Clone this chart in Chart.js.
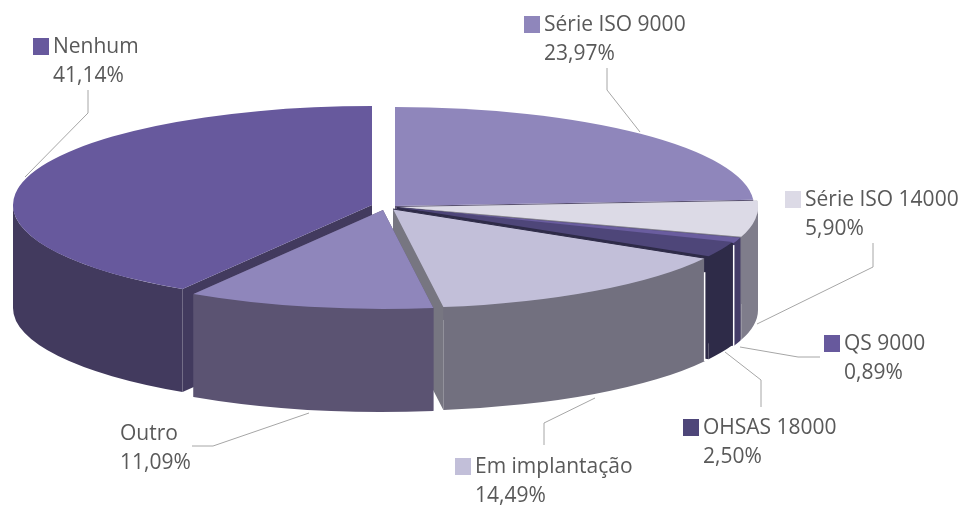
<!DOCTYPE html>
<html>
<head>
<meta charset="utf-8">
<style>html,body{margin:0;padding:0;background:#fff}canvas{display:block}</style>
<script src="https://cdn.jsdelivr.net/npm/chart.js@4"></script>
</head>
<body>
<canvas id="c" width="968" height="506"></canvas>
<script>
// Data (clockwise from 12 o'clock)
const categories = ['Série ISO 9000','Série ISO 14000','QS 9000','OHSAS 18000','Em implantação','Outro','Nenhum'];
const shares = [23.97,5.90,0.89,2.50,14.49,11.09,41.14];

// Styles
const topColors  = ['#8F86BB','#DCDAE6','#6A5D9F','#4E4679','#C2BFD9','#8F86BB','#67599D'];
const wallColors = ['#5B5372','#7F7D8B','#443C68','#2E2B48','#72707F','#5B5372','#423A5E'];
const cutColors  = ['#5B5372','#7F7D8B','#443C68','#2E2B48','#777681','#5B5372','#423A5E'];
const swatchColors = ['#8F86BB','#DCDAE6','#67599D','#4E4679','#C2BFD9',null,'#67599D'];

// Layout
const W = 968, H = 506, CX = 395, CY = 206, R = 200, SX = 1.795, SY = 0.495, DEPTH = 103;
const explode = [[0,0],[4,1],[3,2],[2,1],[-2,3],[-12,4],[-23,-1]];
const wallOrder = [6,0,1,2,3,4,5];
const labelPos = [[544,31],[805,206],[844,350],[703,434],[475,473],[120,440],[53,53]];
const leaders = [
  [[607,68],[607,90],[640,132]],
  [[873,243],[873,267],[757,324]],
  [[820,357],[798,357],[740,347]],
  [[761,407],[761,380],[725,352]],
  [[544,445],[544,423],[595,398]],
  [[192,446],[213,446],[309,413]],
  [[88,90],[88,113],[25,177]]
];
const LINE_GAP = 29, SWATCH = 17;
const FONT = '21px "Open Sans"';

const fmt = v => v.toFixed(2).replace('.', ',') + '%';

const pie3d = {
  id: 'pie3d',
  afterDatasetsUpdate(chart) {
    chart.getDatasetMeta(0).data.forEach((arc, i) => {
      arc.x += explode[i][0] / SX;
      arc.y += explode[i][1] / SY;
    });
  },
  beforeDatasetsDraw(chart) {
    const ctx = chart.ctx, arcs = chart.getDatasetMeta(0).data, d = DEPTH / SY;
    ctx.save();
    ctx.translate(CX, CY); ctx.scale(SX, SY); ctx.translate(-CX, -CY);
    wallOrder.forEach(i => {
      const a = arcs[i], r = a.outerRadius, s = a.startAngle, e = a.endAngle;
      const pt = (t, dy) => [a.x + r * Math.cos(t), a.y + r * Math.sin(t) + dy];
      // cut faces
      ctx.fillStyle = cutColors[i];
      [s, e].forEach(t => {
        ctx.beginPath();
        ctx.moveTo(a.x, a.y);
        ctx.lineTo(...pt(t, 0));
        ctx.lineTo(...pt(t, d));
        ctx.lineTo(a.x, a.y + d);
        ctx.closePath();
        ctx.fill();
      });
      // outer wall: only the front half of the rim can be seen
      const lo = Math.max(s, 0), hi = Math.min(e, Math.PI);
      if (lo < hi) {
        ctx.fillStyle = wallColors[i];
        ctx.beginPath();
        ctx.arc(a.x, a.y, r, lo, hi);
        ctx.lineTo(...pt(hi, d));
        ctx.arc(a.x, a.y + d, r, hi, lo, true);
        ctx.closePath();
        ctx.fill();
      }
    });
  },
  afterDatasetsDraw(chart) {
    const ctx = chart.ctx;
    ctx.restore();
    const arcs = chart.getDatasetMeta(0).data;
    const corner = (a, t) => [
      CX + (a.x - CX) * SX + R * SX * Math.cos(t),
      CY + (a.y - CY) * SY + R * SY * Math.sin(t)
    ];
    // pale seams where neighbouring walls meet
    ctx.strokeStyle = '#FFFFFF';
    ctx.lineWidth = 1.5;
    [[arcs[4], arcs[4].startAngle, 14], [arcs[2], arcs[2].endAngle, 2]].forEach(([a, t, from]) => {
      const [x, y] = corner(a, t);
      ctx.beginPath();
      ctx.moveTo(x, y + from);
      ctx.lineTo(x, y + DEPTH);
      ctx.stroke();
    });
    // dark edge along the left cut of "Em implantação"
    const em = arcs[4], [ex, ey] = corner(em, em.startAngle);
    ctx.strokeStyle = '#2E2B48';
    ctx.lineWidth = 1;
    ctx.beginPath();
    ctx.moveTo(CX + (em.x - CX) * SX, CY + (em.y - CY) * SY);
    ctx.lineTo(ex, ey);
    ctx.lineTo(ex, ey + 14);
    ctx.stroke();
    // leader lines
    ctx.strokeStyle = '#A6A6A6';
    ctx.lineWidth = 1;
    leaders.forEach(l => {
      ctx.beginPath();
      l.forEach((p, k) => k ? ctx.lineTo(p[0], p[1]) : ctx.moveTo(p[0], p[1]));
      ctx.stroke();
    });
    // labels
    ctx.font = FONT;
    ctx.textBaseline = 'alphabetic';
    ctx.textAlign = 'left';
    categories.forEach((name, i) => {
      const [x, y] = labelPos[i];
      if (swatchColors[i]) {
        ctx.fillStyle = swatchColors[i];
        ctx.fillRect(x - 20, y - 15, SWATCH - 1, SWATCH);
      }
      ctx.fillStyle = '#595959';
      ctx.fillText(name, x, y);
      ctx.fillText(fmt(shares[i]), x, y + LINE_GAP);
    });
  }
};

new Chart(document.getElementById('c'), {
  type: 'pie',
  data: {
    labels: categories,
    datasets: [{
      data: shares,
      backgroundColor: topColors,
      borderWidth: 0,
      clip: false
    }]
  },
  options: {
    responsive: false,
    animation: false,
    events: [],
    radius: R,
    layout: { padding: { left: 0, top: 0, right: W - 2 * CX, bottom: H - 2 * CY } },
    plugins: { legend: { display: false }, tooltip: { enabled: false } }
  },
  plugins: [pie3d]
});
</script>
</body>
</html>
